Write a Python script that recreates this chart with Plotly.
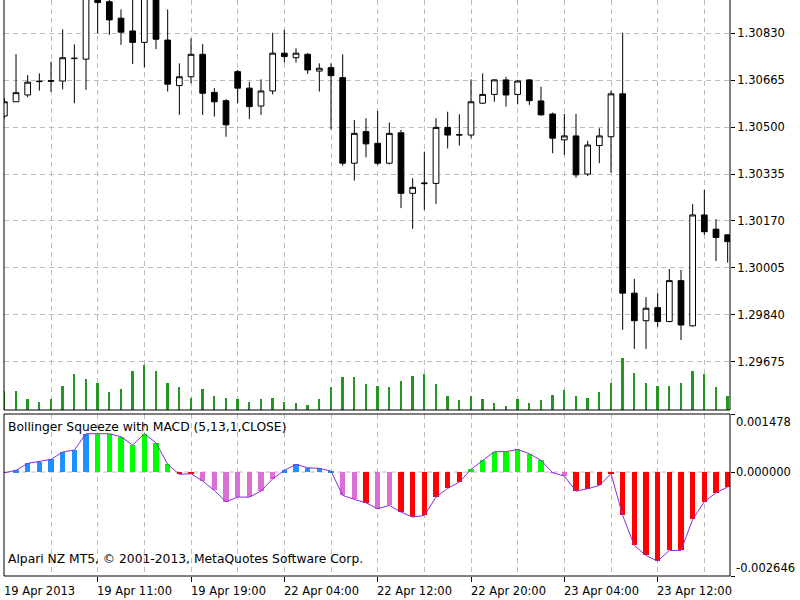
import plotly.graph_objects as go

# ---------------- data (H1 bars, EURUSD-like) ----------------
bar_index = list(range(63))

open_ = [1.30539, 1.30589, 1.30613, 1.30660, 1.30661, 1.30662, 1.30741, 1.30739, 1.30968, 1.30941,
         1.30883, 1.30838, 1.30798, 1.30961, 1.30806, 1.30646, 1.30677, 1.30756, 1.30622, 1.30593,
         1.30695, 1.30637, 1.30574, 1.30627, 1.30760, 1.30744, 1.30756, 1.30697, 1.30709, 1.30674,
         1.30373, 1.30484, 1.30443, 1.30373, 1.30480, 1.30267, 1.30301, 1.30302, 1.30499, 1.30472,
         1.30472, 1.30584, 1.30615, 1.30666, 1.30615, 1.30666, 1.30592, 1.30546, 1.30455, 1.30469,
         1.30335, 1.30435, 1.30466, 1.30617, 1.29916, 1.29819, 1.29865, 1.29816, 1.29960, 1.29801,
         1.30191, 1.30141, 1.30121]
high = [1.30602, 1.30757, 1.30683, 1.30689, 1.30730, 1.30844, 1.30791, 1.30989, 1.31000, 1.30975,
        1.30914, 1.30982, 1.30989, 1.30982, 1.30914, 1.30724, 1.30812, 1.30792, 1.30637, 1.30598,
        1.30701, 1.30660, 1.30668, 1.30832, 1.30842, 1.30777, 1.30760, 1.30724, 1.30724, 1.30756,
        1.30525, 1.30531, 1.30557, 1.30516, 1.30490, 1.30320, 1.30414, 1.30531, 1.30554, 1.30545,
        1.30668, 1.30689, 1.30669, 1.30677, 1.30666, 1.30669, 1.30642, 1.30551, 1.30546, 1.30546,
        1.30452, 1.30496, 1.30628, 1.30832, 1.29966, 1.29902, 1.29916, 1.30001, 1.29998, 1.30229,
        1.30279, 1.30176, 1.30123]
low = [1.30532, 1.30588, 1.30605, 1.30628, 1.30624, 1.30633, 1.30584, 1.30631, 1.30830, 1.30824,
       1.30789, 1.30722, 1.30710, 1.30774, 1.30625, 1.30543, 1.30654, 1.30543, 1.30537, 1.30466,
       1.30584, 1.30528, 1.30543, 1.30615, 1.30727, 1.30727, 1.30687, 1.30625, 1.30492, 1.30364,
       1.30312, 1.30394, 1.30367, 1.30369, 1.30215, 1.30142, 1.30209, 1.30230, 1.30425, 1.30435,
       1.30461, 1.30582, 1.30589, 1.30572, 1.30580, 1.30578, 1.30541, 1.30408, 1.30402, 1.30322,
       1.30328, 1.30373, 1.30340, 1.29787, 1.29720, 1.29720, 1.29798, 1.29814, 1.29751, 1.29799,
       1.30121, 1.30029, 1.30023]
close = [1.30589, 1.30621, 1.30658, 1.30661, 1.30663, 1.30744, 1.30742, 1.30958, 1.30938, 1.30877,
         1.30834, 1.30798, 1.30961, 1.30809, 1.30651, 1.30677, 1.30756, 1.30619, 1.30589, 1.30508,
         1.30637, 1.30572, 1.30627, 1.30760, 1.30748, 1.30760, 1.30701, 1.30707, 1.30681, 1.30373,
         1.30478, 1.30441, 1.30373, 1.30478, 1.30267, 1.30288, 1.30303, 1.30499, 1.30472, 1.30473,
         1.30589, 1.30615, 1.30666, 1.30613, 1.30662, 1.30593, 1.30543, 1.30461, 1.30469, 1.30332,
         1.30437, 1.30469, 1.30617, 1.29916, 1.29819, 1.29863, 1.29816, 1.29960, 1.29804, 1.30191,
         1.30132, 1.30112, 1.30097]
tick_volume = [560, 560, 330, 250, 330, 730, 1080, 940, 820, 550,
               640, 1170, 1350, 1170, 820, 680, 370, 640, 420, 370,
               330, 250, 330, 370, 250, 200, 150, 330, 680, 990,
               990, 770, 730, 680, 860, 1030, 1090, 770, 420, 290,
               420, 330, 200, 110, 330, 200, 290, 460, 590, 420,
               370, 550, 820, 1560, 1120, 820, 730, 730, 820, 1170,
               1090, 680, 420]

macd_hist = [-0.000020, 0.000042, 0.000221, 0.000263, 0.000323, 0.000509, 0.000560, 0.000976, 0.000976, 0.000976,
             0.000900, 0.000688, 0.000976, 0.000747, 0.000195, -0.000059, -0.000042, -0.000229, -0.000467, -0.000756,
             -0.000637, -0.000637, -0.000484, -0.000170, 0.000042, 0.000195, 0.000110, 0.000093, 0.000025, -0.000594,
             -0.000696, -0.000781, -0.000934, -0.000849, -0.001019, -0.001146, -0.001104, -0.000637, -0.000416, -0.000255,
             0.000068, 0.000300, 0.000518, 0.000518, 0.000577, 0.000467, 0.000297, -0.000017, -0.000102, -0.000484,
             -0.000425, -0.000340, -0.000042, -0.001104, -0.001868, -0.002123, -0.002267, -0.001995, -0.001995, -0.001206,
             -0.000756, -0.000526, -0.000382]
macd_state = ["blue", "blue", "blue", "blue", "blue", "blue", "blue", "blue", "green", "green",
              "green", "green", "green", "green", "green", "red", "red", "violet", "violet", "violet",
              "violet", "violet", "violet", "violet", "blue", "blue", "blue", "blue", "blue", "violet",
              "violet", "red", "violet", "violet", "red", "red", "red", "red", "red", "red",
              "green", "green", "green", "green", "green", "green", "green", "violet", "violet", "red",
              "red", "red", "red", "red", "red", "red", "red", "red", "red", "red",
              "red", "red", "red"]

price_ticks = [1.30830, 1.30665, 1.30500, 1.30335, 1.30170, 1.30005, 1.29840, 1.29675]
time_label_bars = [0, 8, 16, 24, 32, 40, 48, 56]
time_labels = ["19 Apr 2013", "19 Apr 11:00", "19 Apr 19:00", "22 Apr 04:00",
               "22 Apr 12:00", "22 Apr 20:00", "23 Apr 04:00", "23 Apr 12:00"]
grid_bars = [4, 12, 20, 28, 36, 44, 52, 60]
macd_scale = [0.001478, 0.000000, -0.002646]
macd_scale_text = ["0.001478", "0.000000", "-0.002646"]

price_range = [1.29505, 1.30947]
volume_range = [0, 12300]

# ---------------- styling ----------------
FONT = "DejaVu Sans"
FS = 11.5
FS_TITLE = 12.3
GRID = "#BDBDBD"
DASH = "5px,4px"
state_colors = {"blue": "#1E90FF", "green": "#00FF00", "red": "#FF0000", "violet": "#DA70D6"}

H_PLOT = 576.0
main_bottom = (H_PLOT - 410) / H_PLOT
sub_top = (H_PLOT - 414) / H_PLOT


def py(pix):
    return (H_PLOT - pix) / H_PLOT


fig = go.Figure()

fig.add_trace(go.Bar(
    x=bar_index, y=tick_volume, width=0.17, marker=dict(color="#239623", line=dict(width=0)),
    xaxis="x", yaxis="y3", hoverinfo="skip", showlegend=False))

fig.add_trace(go.Candlestick(
    x=bar_index, open=open_, high=high, low=low, close=close,
    increasing=dict(line=dict(color="black", width=1), fillcolor="white"),
    decreasing=dict(line=dict(color="black", width=1), fillcolor="black"),
    whiskerwidth=0, xaxis="x", yaxis="y", showlegend=False))

fig.add_trace(go.Bar(
    x=bar_index, y=macd_hist, width=0.45,
    marker=dict(color=[state_colors[s] for s in macd_state], line=dict(width=0)),
    xaxis="x", yaxis="y2", showlegend=False))

fig.add_trace(go.Scatter(
    x=bar_index, y=macd_hist, mode="lines", line=dict(color="#8A2BE2", width=1),
    xaxis="x", yaxis="y2", showlegend=False))

shapes = [
    # zero line in subwindow
    dict(type="line", xref="paper", yref="y2", x0=0, x1=1, y0=0, y1=0,
         line=dict(color=GRID, width=1, dash=DASH), layer="below"),
    # main panel frame (top is off-screen)
    dict(type="line", xref="paper", yref="paper", x0=0, x1=1, y0=main_bottom, y1=main_bottom,
         line=dict(color="black", width=1), layer="above"),
    dict(type="line", xref="paper", yref="paper", x0=0, x1=0, y0=main_bottom, y1=1.01,
         line=dict(color="black", width=1), layer="above"),
    dict(type="line", xref="paper", yref="paper", x0=1, x1=1, y0=main_bottom, y1=1.01,
         line=dict(color="black", width=1), layer="above"),
    # subwindow frame
    dict(type="rect", xref="paper", yref="paper", x0=0, x1=1, y0=0, y1=sub_top,
         line=dict(color="black", width=1), fillcolor="rgba(0,0,0,0)", layer="above"),
]

annotations = [
    dict(text="Bollinger Squeeze with MACD (5,13,1,CLOSE)", xref="paper", yref="paper",
         x=(6 - 4) / 726, y=py(427), xanchor="left", yanchor="middle", showarrow=False,
         font=dict(family=FONT, size=FS_TITLE, color="black")),
    dict(text="Alpari NZ MT5, © 2001-2013, MetaQuotes Software Corp.", xref="paper", yref="paper",
         x=(6 - 4) / 726, y=py(559), xanchor="left", yanchor="middle", showarrow=False,
         font=dict(family=FONT, size=FS_TITLE, color="black")),
]
for b, t in zip(time_label_bars, time_labels):
    annotations.append(dict(text=t, xref="x", yref="paper", x=b, xshift=-2.5, y=py(591),
                            xanchor="left", yanchor="middle", showarrow=False,
                            font=dict(family=FONT, size=FS, color="black")))
for pix, t in zip([421.7, 472.3, 568.3], macd_scale_text):
    annotations.append(dict(text=t, xref="paper", yref="paper", x=1 + 4 / 726, y=py(pix),
                            xanchor="left", yanchor="middle", showarrow=False,
                            font=dict(family=FONT, size=FS, color="black")))

fig.update_layout(
    width=800, height=600,
    margin=dict(l=4, r=70, t=0, b=24),
    paper_bgcolor="white", plot_bgcolor="white",
    showlegend=False, bargap=0,
    font=dict(family=FONT, size=FS, color="black"),
    xaxis=dict(range=[-0.03, 62.2], anchor="y2", tickmode="array", tickvals=time_label_bars[1:],
               showticklabels=False, ticks="outside", ticklen=5, tickcolor="black",
               showgrid=True, gridcolor=GRID, gridwidth=1, griddash=DASH,
               minor=dict(tickmode="array", tickvals=grid_bars, showgrid=True, gridcolor=GRID,
                          gridwidth=1, griddash=DASH, ticks=""),
               zeroline=False, showline=False, rangeslider=dict(visible=False), fixedrange=True),
    yaxis=dict(domain=[main_bottom, 1], range=price_range, side="right", tickmode="array",
               tickvals=price_ticks, ticktext=["%.5f" % p for p in price_ticks],
               ticks="outside", ticklen=4, tickcolor="black",
               showgrid=True, gridcolor=GRID, gridwidth=1, griddash=DASH,
               zeroline=False, showline=False, tickfont=dict(family=FONT, size=FS, color="black")),
    yaxis3=dict(overlaying="y", range=volume_range, visible=False, showgrid=False, zeroline=False),
    yaxis2=dict(domain=[0, sub_top], range=[macd_scale[2], macd_scale[0]], side="right",
                tickmode="array", tickvals=macd_scale, showticklabels=False,
                ticks="outside", ticklen=4, tickcolor="black",
                showgrid=False, zeroline=False, showline=False),
    shapes=shapes,
    annotations=annotations,
)

fig.write_html("out.html")
